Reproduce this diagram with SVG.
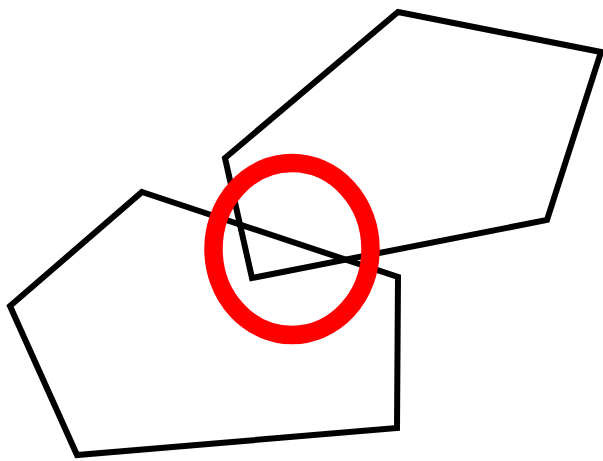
<svg xmlns="http://www.w3.org/2000/svg" width="603" height="461" viewBox="0 0 603 461">
<style>
.shape{fill:none;stroke:#000;stroke-width:6;stroke-linejoin:miter}
.mark{fill:none;stroke:#ff0000;stroke-width:18.5}
</style>
<rect width="603" height="461" fill="#fff"/>
<g id="upper-pentagon"><polygon class="shape" points="398,12 601,52 547,220 252,278 225,158"/></g>
<g id="lower-pentagon"><polygon class="shape" points="142,192 398,277 397,428 77,455 10,306"/></g>
<g id="highlight"><ellipse class="mark" cx="292" cy="249" rx="78.5" ry="86"/></g>
</svg>
